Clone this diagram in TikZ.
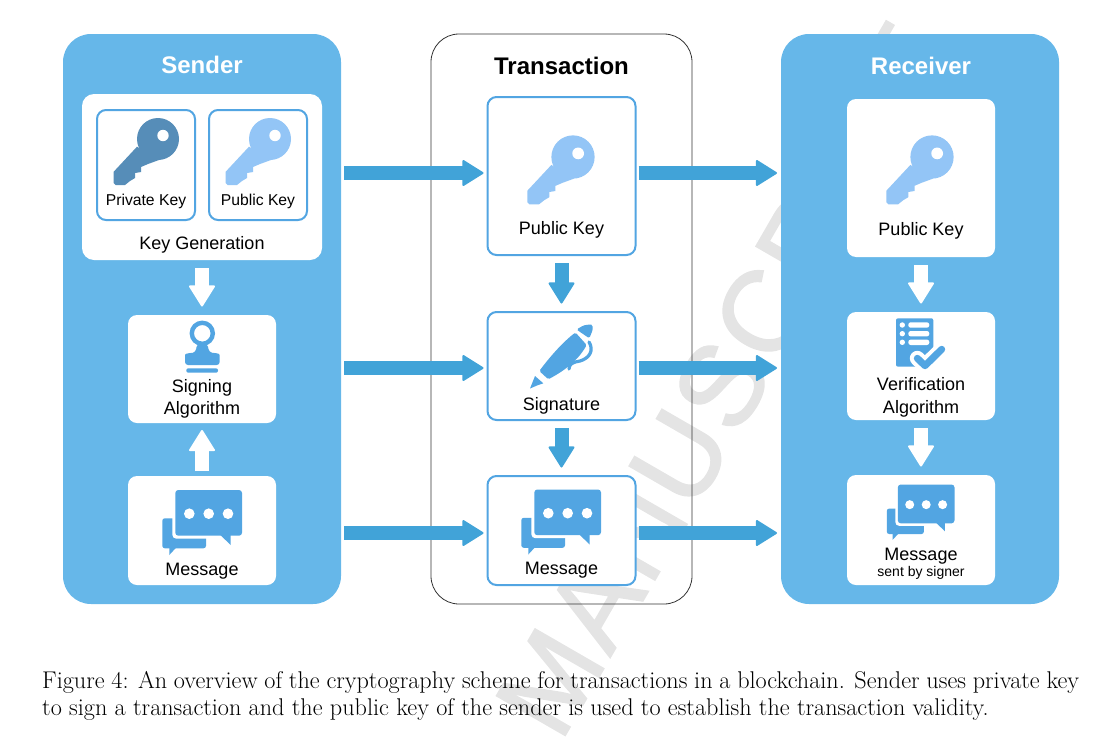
\documentclass[tikz,border=0pt]{standalone}
\usepackage{fontspec}
\setmainfont{Latin Modern Roman}
\newfontfamily\labelfont{Liberation Sans}
\newfontfamily\markfont[FakeBold=1.5,LetterSpace=3]{Liberation Sans}
\usetikzlibrary{arrows.meta,positioning}
\definecolor{PanelBlue}{HTML}{66B7E9}
\definecolor{ArrowBlue}{HTML}{41A3D8}
\definecolor{IconBlue}{HTML}{52A5E2}
\definecolor{KeyDark}{HTML}{568DB8}
\definecolor{KeyLight}{HTML}{93C5F6}
\definecolor{MarkGray}{HTML}{E4E4E4}
\tikzset{
  panel/.style={rounded corners=28pt, minimum width=278pt, minimum height=570pt, inner sep=0pt, outer sep=0pt},
  whitebox/.style={fill=white, rounded corners=9pt, minimum width=148pt, inner sep=0pt, outer sep=0pt},
  linebox/.style={whitebox, draw=IconBlue, line width=2pt},
  headtxt/.style={font=\labelfont\bfseries\fontsize{24}{28}\selectfont, inner sep=0pt},
  boxtxt/.style={font=\labelfont\fontsize{18}{22.5}\selectfont, text=black, align=center, inner sep=0pt},
  smalltxt/.style={font=\labelfont\fontsize{15.7}{18}\selectfont, text=black, align=center, inner sep=0pt},
  flowarr/.style={draw=ArrowBlue, line width=14pt, -{Triangle[length=22pt,width=27pt,round,line width=2pt]}, shorten >=4pt, shorten <=3pt},
  downarr/.style={flowarr, shorten >=8.5pt, shorten <=8pt},
  whitearr/.style={downarr, draw=white},
  keyicon/.pic={
    \fill[#1] (0,0) circle (21);
    \fill[#1] (-21,7.7) -- (-44.3,32.7) -- (-44.3,44) -- (-42.3,46) -- (-33,46) -- (-28,42) -- (-23,39) -- (-23,34)
      -- (-17,33) -- (-17,28) -- (-10,25) -- (1,21) -- cycle;
    \fill[white] (5,-3.5) circle (5.7);
  },
  msgicon/.pic={
    \fill[IconBlue, rounded corners=2.5pt] (-39.7,-1.7) rectangle (4,28.3);
    \fill[IconBlue] (-32.7,27) -- (-32.7,35) -- (-25.3,27) -- cycle;
    \fill[white, rounded corners=4pt] (-29.7,-33) rectangle (43,18.7);
    \fill[IconBlue, rounded corners=3pt] (-26.7,-30) rectangle (40,15.7);
    \fill[IconBlue] (18,14.7) -- (28.7,25) -- (28.7,14.7) -- cycle;
    \foreach \dotx in {-12.7,6.7,26} \fill[white] (\dotx,-6.3) circle (5.3);
  }
}
\begin{document}
\begin{tikzpicture}[x=1pt,y=-1pt]
\useasboundingbox (0,0) rectangle (1113,739);
\begin{scope}
\clip (0,0) rectangle (1113,739);
\node[rotate=60, text=MarkGray, inner sep=0pt, font=\markfont\fontsize{115}{115}\selectfont] (mark) at (724,381) {MANUSCRIPT};
\end{scope}

% panels
\node[panel, fill=PanelBlue] (sender) at (202,319) {};
\node[panel, draw=black!80, line width=.8pt, minimum width=261pt] (trans) at (561.5,319) {};
\node[panel, fill=PanelBlue] (receiver) at (920,319) {};
\node[headtxt, text=white] (sendertitle) at (202,65) {Sender};
\node[headtxt, text=black] (transtitle) at (561.5,66) {Transaction};
\node[headtxt, text=white] (receivertitle) at (921,66) {Receiver};

% sender column
\node[whitebox, minimum width=240pt, minimum height=166pt, rounded corners=12pt] (keygen) at (202,177) {};
\node[linebox, minimum width=98pt, minimum height=110pt] (privbox) at (146,165) {};
\node[linebox, minimum width=98pt, minimum height=110pt, right=14pt of privbox] (pubbox) {};
\pic at (158,139) {keyicon=KeyDark};
\pic at (270,139) {keyicon=KeyLight};
\node[smalltxt] (privtxt) at (146,201) {Private Key};
\node[smalltxt] (pubtxt) at (258,201) {Public Key};
\node[boxtxt] (gentxt) at (202,245) {Key Generation};
\node[whitebox, minimum height=108pt, below=55pt of keygen] (signing) {};
\node[whitebox, minimum height=109pt, below=53pt of signing] (sendmsg) {};
% stamp
\draw[IconBlue, line width=4.4pt] (202.3,333.3) circle (10.5);
\fill[IconBlue, rounded corners=3pt] (185,365) -- (185,358) .. controls (185,353) and (192,353) .. (195.7,352)
  -- (197,344) -- (207.5,344) -- (209,352) .. controls (213,353) and (219.7,353) .. (219.7,358) -- (219.7,365) -- cycle;
\fill[IconBlue, rounded corners=2pt] (186.3,368.3) rectangle (218,372.7);
\node[boxtxt] (signtxt) at (202,399) {Signing\\Algorithm};
\pic at (202,520) {msgicon};
\node[boxtxt] (sendmsgtxt) at (202,571) {Message};

% transaction column
\node[linebox, minimum height=158pt] (txkey) at (561.5,176) {};
\node[linebox, minimum height=108pt, below=57pt of txkey] (txsig) {};
\node[linebox, minimum height=109pt, below=56pt of txsig] (txmsg) {};
\pic[scale=1.03] at (573,157) {keyicon=KeyLight};
\node[boxtxt] (txkeytxt) at (561.5,230) {Public Key};
% pen
\fill[IconBlue, rounded corners=1.5pt] (539.3,371) .. controls (555,350) and (568,338) .. (575.5,332.5) -- (586.7,345)
  .. controls (577,362) and (562,372) .. (548.3,379.3) -- cycle;
\fill[IconBlue, rounded corners=1.5pt] (576.5,329.5) -- (583,325.7) .. controls (587,324.5) and (591,324.5) .. (592.7,325.3)
  -- (592.7,330) -- (589.3,338.3) -- cycle;
\fill[IconBlue] (535,376) -- (543.3,383.3) -- (537,385.5) -- (530,388.5) -- cycle;
\draw[IconBlue, line width=3.2pt, line cap=round] (589,342) .. controls (594,350) and (590,358) .. (580,361) .. controls (573,362) and (569,364) .. (569,369);
\node[boxtxt] (txsigtxt) at (561.5,406) {Signature};
\pic at (561,519.5) {msgicon};
\node[boxtxt] (txmsgtxt) at (561.5,570) {Message};

% receiver column
\node[whitebox, minimum height=158pt] (rxkey) at (921,178) {};
\node[whitebox, minimum height=108pt, below=55pt of rxkey] (rxver) {};
\node[whitebox, minimum height=110pt, below=55pt of rxver] (rxmsg) {};
\pic[scale=1.03] at (932,157) {keyicon=KeyLight};
\node[boxtxt] (rxkeytxt) at (921,231) {Public Key};
% checklist
\fill[IconBlue, rounded corners=2pt] (896,318.3) rectangle (933.3,366.7);
\foreach \rowy in {325,333.7,342.3} {
  \fill[white] (902.3,\rowy) circle (2.7);
  \fill[white, rounded corners=2.4pt] (908.3,\rowy-2.7) rectangle (929.3,\rowy+2.7);
}
\draw[white, line width=15pt, line cap=round, line join=round] (917.3,358.3) -- (925,365.7) -- (941.7,349.3);
\draw[IconBlue, line width=7pt, line cap=round, line join=round] (917.3,358.3) -- (925,365.7) -- (941.7,349.3);
\node[boxtxt] (rxvertxt) at (921,397.5) {Verification\\Algorithm};
\pic[scale=.85] at (920.5,510) {msgicon};
\node[boxtxt] (rxmsgtxt) at (921,556) {Message};
\node[font=\labelfont\fontsize{14}{16}\selectfont, inner sep=0pt] (rxsenttxt) at (921,573) {sent by signer};

% arrows between columns
\coordinate (row1) at (0,173);
\coordinate (row2) at (0,368);
\coordinate (row3) at (0,533);
\draw[flowarr] (sender.east |- row1) -- (txkey.west |- row1);
\draw[flowarr] (sender.east |- row2) -- (txsig.west |- row2);
\draw[flowarr] (sender.east |- row3) -- (txmsg.west |- row3);
\draw[flowarr] (txkey.east |- row1) -- (receiver.west |- row1);
\draw[flowarr] (txsig.east |- row2) -- (receiver.west |- row2);
\draw[flowarr] (txmsg.east |- row3) -- (receiver.west |- row3);
% arrows inside columns
\draw[whitearr] (keygen.south) -- (signing.north);
\draw[whitearr, shorten <=5pt, shorten >=7pt] (sendmsg.north) -- (signing.south);
\draw[downarr] (txkey.south) -- (txsig.north);
\draw[downarr] (txsig.south) -- (txmsg.north);
\draw[whitearr] (rxkey.south) -- (rxver.north);
\draw[whitearr] (rxver.south) -- (rxmsg.north);

% caption
\node[anchor=north west, text width=1037pt, inner sep=0pt, align=justify, font=\fontsize{24.2}{27}\selectfont] (caption) at (42,671)
  {Figure 4: An overview of the cryptography scheme for transactions in a blockchain. Sender uses private key\linebreak to sign a transaction and the public key of the sender is used to establish the transaction validity.};
\end{tikzpicture}
\end{document}
